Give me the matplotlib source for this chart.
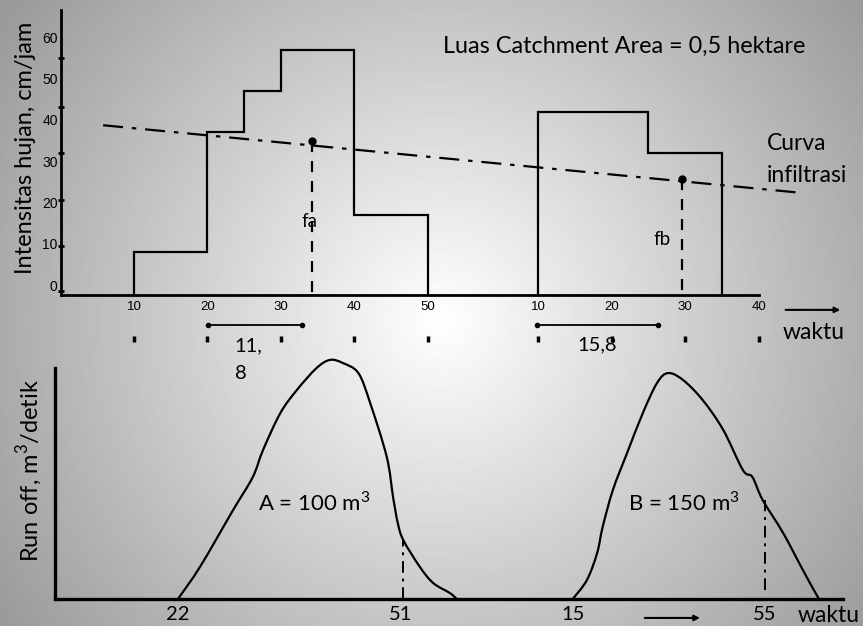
import numpy as np
import matplotlib.pyplot as plt
from matplotlib.path import Path
from matplotlib.patches import PathPatch

plt.rcParams['font.family'] = ['Lato', 'DejaVu Sans']
plt.rcParams['mathtext.fontset'] = 'custom'
plt.rcParams['mathtext.rm'] = 'Lato'

W, H = 863, 626

# hujan (hyetograph) blocks, waktu in menit, intensitas in cm/jam
storm_a_t = [10, 20, 25, 30, 40, 50]
storm_a_i = [8, 37, 47, 57, 17]
storm_b_t = [10, 25, 35]
storm_b_i = [42, 32]
b_offset = 55            # storm b is drawn after storm a on the same axis

top_ticks = [10, 20, 30, 40, 50, 10, 20, 30, 40]
y_ticks = [0, 10, 20, 30, 40, 50, 60]
y_dots = [-1.5, 9.4, 20.6, 32, 43, 55]

# curva infiltrasi (dash-dot), and fa / fb points
infil_t = [5.8, 101]
infil_i = [38.7, 22.3]
fa_t, fa_i = 34.2, 34.9
fb_t, fb_i = 29.6, 25.7

# durations under the time axis
dur_a = [20.1, 32.9]
dur_b = [9.8, 26.3]

# hydrographs (runoff), schematic units 0..100
hyd_a_x = [15.6, 18.4, 22.6, 25.1, 26.4, 28.6, 30.7, 33.2, 34.9, 36.5, 38.5, 40.0,
           42.1, 42.9, 43.5, 44.2, 46.3, 48.0, 50.1, 51.0]
hyd_a_y = [0, 13.9, 38.5, 52.8, 64.5, 80.5, 90.5, 100, 103.5, 102.2, 97.8, 84.8,
           61.5, 44.2, 32.9, 25.5, 13.9, 6.9, 2.6, 0]
hyd_b_x = [65.7, 67.5, 68.8, 69.5, 70.8, 72.6, 74.6, 76.4, 77.8, 79.7, 82.2, 84.8,
           87.3, 88.5, 89.8, 92.4, 94.9, 96.8, 97.1]
hyd_b_y = [0, 8.2, 19.9, 31.2, 47.2, 63.2, 80.5, 93.5, 97.8, 94.8, 86.1, 73.2,
           55.8, 52.8, 42.9, 28.6, 12.6, 0.9, 0]
cut_a = (44.2, 25.5)
cut_b = (90.1, 42.9)
bot_ticks = [15.6, 43.8, 65.7, 90.1]
bot_labels = ['22', '51', '15', '55']


def px_rect(x0, y0, x1, y1):
    # pixel box (top-left origin) -> figure fraction rect
    return [x0 / W, 1 - y1 / H, (x1 - x0) / W, (y1 - y0) / H]


def smooth_curve(x, y):
    # catmull-rom through the points, written as cubic bezier segments
    p = np.column_stack([x, y]).astype(float)
    p = np.vstack([p[0], p, p[-1]])
    verts = [p[1]]
    codes = [Path.MOVETO]
    for i in range(1, len(p) - 2):
        c1 = p[i] + (p[i + 1] - p[i - 1]) / 6
        c2 = p[i + 1] - (p[i + 2] - p[i]) / 6
        verts += [c1, c2, p[i + 1]]
        codes += [Path.CURVE4] * 3
    return Path(verts, codes)


fig = plt.figure(figsize=(W / 100, H / 100), dpi=100)

# grey radial background
bg = fig.add_axes([0, 0, 1, 1])
yy, xx = np.mgrid[0:H, 0:W]
d = np.hypot(xx - 440, yy - 320)
shade = np.clip(255 - 0.19 * d, 155, 255) / 255
bg.imshow(shade, cmap='gray', vmin=0, vmax=1, aspect='auto')
bg.axis('off')

# ---- top: intensitas hujan ----
ax = fig.add_axes(px_rect(60.5, 10, 810, 295))
ax.patch.set_alpha(0)
ax.set_xlim(0, 102)
ax.set_ylim(-2.4, 66.6)
for s in ['top', 'right']:
    ax.spines[s].set_visible(False)
ax.spines['left'].set_linewidth(2)
ax.spines['bottom'].set_linewidth(2)
ax.spines['bottom'].set_bounds(0, 95)

ax.stairs(storm_a_i, storm_a_t, color='black', lw=1.6, baseline=-2.4)
ax.stairs(storm_b_i, np.array(storm_b_t) + b_offset, color='black', lw=1.6, baseline=-2.4)

ax.plot(infil_t, infil_i, color='black', lw=1.6, ls=(0, (9, 4, 2, 4)))
ax.plot([fa_t, fa_t], [fa_i, -2.4], color='black', lw=1.6, ls=(0, (5, 4)))
ax.plot([fb_t + b_offset] * 2, [fb_i, -2.4], color='black', lw=1.6, ls=(0, (5, 4)))
ax.plot([fa_t, fb_t + b_offset], [fa_i, fb_i], 'o', color='black', ms=5, ls='none')

ax.set_xticks([10, 20, 30, 40, 50, 65, 75, 85, 95])
ax.set_xticklabels([str(t) for t in top_ticks], family='Liberation Sans', fontsize=9.5)
ax.tick_params(axis='x', length=0, pad=4)
ax.set_yticks(y_ticks)
ax.set_yticklabels([str(v) for v in y_ticks], family='Liberation Sans', fontsize=10)
ax.tick_params(axis='y', which='major', length=0, pad=2)
ax.set_yticks(y_dots, minor=True)
ax.tick_params(axis='y', which='minor', length=4, width=2, direction='inout')

ax.text(fa_t - 0.3, 15.3, 'fa', fontsize=13.5, ha='center', va='center')
ax.text(fb_t + b_offset - 1.5, 11.1, 'fb', fontsize=13.5, ha='right', va='center')
ax.text(52.0, 57.9, 'Luas Catchment Area = 0,5 hektare', fontsize=16.8, va='center')
ax.text(96.1, 34.4, 'Curva', fontsize=16.5, va='center')
ax.text(96.1, 26.6, 'infiltrasi', fontsize=16.5, va='center')

# below the time axis
marks_t = [10, 20, 30, 40, 50, 65, 75, 85, 95]
ax.plot(marks_t, [-13.1] * len(marks_t), '|', color='black', ms=5, mew=2.5, clip_on=False)
ax.plot(dur_a, [-9.7, -9.7], color='black', lw=1.3, marker='o', ms=3, clip_on=False)
ax.plot(np.array(dur_b) + b_offset, [-9.7, -9.7], color='black', lw=1.3, marker='o', ms=3,
        clip_on=False)
ax.text(23.7, -14.8, '11,', fontsize=14.5, va='center')
ax.text(23.7, -21.3, '8', fontsize=14.5, va='center')
ax.text(70.4, -14.5, '15,8', fontsize=14.5, va='center')
ax.text(98.3, -11.4, 'waktu', fontsize=16.5, va='center')
ax.annotate('', xy=(106.5, -6), xytext=(98.3, -6), annotation_clip=False,
            arrowprops=dict(arrowstyle='-|>', color='black', lw=1.5, mutation_scale=8))

fig.text(25 / W, 1 - 148 / H, 'Intensitas hujan, cm/jam', rotation=90,
         ha='center', va='center', fontsize=17)

# ---- bottom: run off ----
bx = fig.add_axes(px_rect(55, 599 - 231 * 1.06, 843, 599))
bx.patch.set_alpha(0)
bx.set_xlim(0, 100)
bx.set_ylim(0, 106)
for s in ['top', 'right']:
    bx.spines[s].set_visible(False)
bx.spines['left'].set_linewidth(2.4)
bx.spines['bottom'].set_linewidth(2.4)
bx.spines['left'].set_bounds(0, 100)

for hx, hy in [(hyd_a_x, hyd_a_y), (hyd_b_x, hyd_b_y)]:
    bx.add_patch(PathPatch(smooth_curve(hx, hy), fill=False, edgecolor='black', lw=1.6,
                           capstyle='round', joinstyle='round'))
bx.plot([cut_a[0]] * 2, [0, cut_a[1]], color='black', lw=1.4, ls=(0, (6, 3, 1.5, 3)))
bx.plot([cut_b[0]] * 2, [4, cut_b[1]], color='black', lw=1.4, ls=(0, (6, 3, 1.5, 3)))

bx.set_yticks([])
bx.set_xticks(bot_ticks)
bx.set_xticklabels(bot_labels, fontsize=14.5)
bx.tick_params(axis='x', length=0, pad=5)

bx.text(25.8, 41.6, 'A = 100 m$^{3}$', fontsize=16, va='center')
bx.text(72.7, 41.6, 'B = 150 m$^{3}$', fontsize=16, va='center')
bx.text(94.3, -7.3, 'waktu', fontsize=16.5, va='center', clip_on=False)
bx.annotate('', xy=(82.2, -8.2), xytext=(74.5, -8.2), annotation_clip=False,
            arrowprops=dict(arrowstyle='-|>', color='black', lw=1.5, mutation_scale=8))

fig.text(30 / W, 1 - 471 / H, 'Run off, m$^{3}$/detik', rotation=90,
         ha='center', va='center', fontsize=17)

fig.savefig('out.png', dpi=100)
